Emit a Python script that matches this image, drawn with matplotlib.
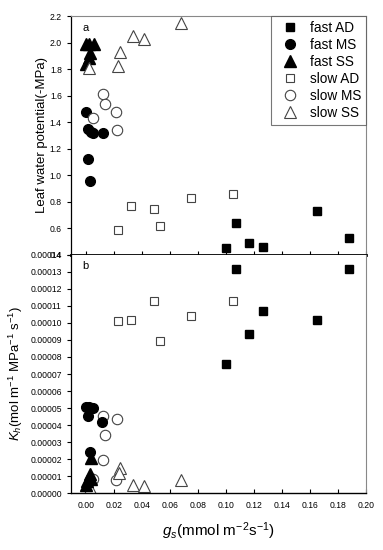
import matplotlib
matplotlib.use('Agg')
import matplotlib.pyplot as plt
from matplotlib.ticker import FormatStrFormatter, MultipleLocator

plt.rcParams['font.family'] = ['Liberation Sans', 'DejaVu Sans']
plt.rcParams['mathtext.fontset'] = 'custom'
plt.rcParams['mathtext.rm'] = 'Liberation Sans'
plt.rcParams['mathtext.it'] = 'Liberation Sans:italic'

# panel a: leaf water potential (-MPa) vs gs
fast_ad_gs_a = [0.0998, 0.107, 0.1167, 0.1267, 0.165, 0.188]
fast_ad_lwp = [0.45, 0.64, 0.49, 0.46, 0.73, 0.53]
fast_ms_gs_a = [0.0002, 0.0014, 0.0035, 0.005, 0.0119, 0.0012, 0.0031]
fast_ms_lwp = [1.48, 1.35, 1.33, 1.32, 1.32, 1.12, 0.96]
fast_ss_gs_a = [0.0, 0.0024, 0.0057, 0.0033, 0.0024, 0.0]
fast_ss_lwp = [1.99, 1.99, 1.99, 1.92, 1.88, 1.84]
slow_ad_gs_a = [0.0226, 0.0321, 0.0488, 0.0531, 0.0748, 0.1048]
slow_ad_lwp = [0.59, 0.77, 0.75, 0.62, 0.83, 0.86]
slow_ms_gs_a = [0.0119, 0.0136, 0.0052, 0.0212, 0.0219]
slow_ms_lwp = [1.61, 1.54, 1.43, 1.48, 1.34]
slow_ss_gs_a = [0.002, 0.0245, 0.023, 0.0336, 0.0412, 0.0679]
slow_ss_lwp = [1.81, 1.93, 1.82, 2.05, 2.03, 2.145]

# panel b: Kh vs gs
fast_ad_gs_b = [0.107, 0.188, 0.0998, 0.1167, 0.1267, 0.165]
fast_ad_kh = [0.000132, 0.000132, 0.000076, 0.0000937, 0.000107, 0.000102]
fast_ms_gs_b = [0.0, 0.0024, 0.0048, 0.0017, 0.0117, 0.0033]
fast_ms_kh = [0.0000508, 0.0000508, 0.0000500, 0.0000453, 0.0000420, 0.0000243]
fast_ss_gs_b = [0.0038, 0.0, 0.001, 0.002, 0.003, 0.004]
fast_ss_kh = [0.0000204, 0.000005, 0.000007, 0.000009, 0.000011, 0.000008]
slow_ad_gs_b = [0.0226, 0.0321, 0.0488, 0.0531, 0.0748, 0.1048]
slow_ad_kh = [0.000101, 0.000102, 0.000113, 0.0000892, 0.000104, 0.000113]
slow_ms_gs_b = [0.0124, 0.0138, 0.0219, 0.0119, 0.0212, 0.0052]
slow_ms_kh = [0.0000453, 0.0000341, 0.0000437, 0.0000196, 0.0000075, 0.000008]
slow_ss_gs_b = [0.003, 0.0243, 0.0236, 0.0333, 0.0414, 0.0679]
slow_ss_kh = [0.000003, 0.0000145, 0.0000115, 0.0000047, 0.0000041, 0.0000076]

edge = '#444444'
styles = {
    'fast AD': dict(marker='s', ms=5.5, mfc='black', mec='black'),
    'fast MS': dict(marker='o', ms=7, mfc='black', mec='black'),
    'fast SS': dict(marker='^', ms=8, mfc='black', mec='black'),
    'slow AD': dict(marker='s', ms=6, mfc='white', mec=edge, mew=0.8),
    'slow MS': dict(marker='o', ms=7.5, mfc='white', mec=edge, mew=0.8),
    'slow SS': dict(marker='^', ms=9, mfc='white', mec=edge, mew=0.8),
}

fig = plt.figure(figsize=(3.83, 5.5), dpi=100)
ax_a = fig.add_axes([0.185, 0.5364, 0.771, 0.4345])
ax_b = fig.add_axes([0.185, 0.1036, 0.771, 0.4328])

series_a = [
    ('fast AD', fast_ad_gs_a, fast_ad_lwp),
    ('fast MS', fast_ms_gs_a, fast_ms_lwp),
    ('fast SS', fast_ss_gs_a, fast_ss_lwp),
    ('slow AD', slow_ad_gs_a, slow_ad_lwp),
    ('slow MS', slow_ms_gs_a, slow_ms_lwp),
    ('slow SS', slow_ss_gs_a, slow_ss_lwp),
]
series_b = [
    ('slow AD', slow_ad_gs_b, slow_ad_kh),
    ('slow MS', slow_ms_gs_b, slow_ms_kh),
    ('slow SS', slow_ss_gs_b, slow_ss_kh),
    ('fast AD', fast_ad_gs_b, fast_ad_kh),
    ('fast MS', fast_ms_gs_b, fast_ms_kh),
    ('fast SS', fast_ss_gs_b, fast_ss_kh),
]

for name, x, y in series_a:
    ax_a.plot(x, y, linestyle='none', label=name, **styles[name])
for name, x, y in series_b:
    ax_b.plot(x, y, linestyle='none', **styles[name])

for ax in (ax_a, ax_b):
    ax.set_xlim(-0.0107, 0.2)
    ax.xaxis.set_major_locator(MultipleLocator(0.02))
    ax.tick_params(axis='x', direction='in', length=3, width=0.8, labelsize=6.2, pad=6)
    ax.tick_params(axis='y', direction='out', length=3, width=0.8, labelsize=6.2)
    ax.spines['top'].set_color('#888888')
    ax.spines['right'].set_color('#888888')
    ax.spines['top'].set_linewidth(0.8)
    ax.spines['right'].set_linewidth(0.8)
    ax.spines['left'].set_linewidth(0.9)

ax_a.set_ylim(0.4, 2.2)
ax_a.yaxis.set_major_locator(MultipleLocator(0.2))
ax_a.yaxis.set_major_formatter(FormatStrFormatter('%.1f'))
ax_a.tick_params(axis='x', labelbottom=False)
ax_a.spines['bottom'].set_linewidth(2)
ax_a.spines['bottom'].set_zorder(5)
ax_a.set_ylabel('Leaf water potential(-MPa)', fontsize=9.5, labelpad=1)
ax_a.text(0.04, 0.97, 'a', transform=ax_a.transAxes, fontsize=8, va='top')

ax_b.set_ylim(0, 0.00014)
ax_b.yaxis.set_major_locator(MultipleLocator(0.00001))
ax_b.yaxis.set_major_formatter(FormatStrFormatter('%.5f'))
ax_b.xaxis.set_major_formatter(FormatStrFormatter('%.2f'))
ax_b.spines['top'].set_visible(False)
ax_b.spines['bottom'].set_linewidth(1)
ax_b.set_ylabel(r'$K_h$(mol m$^{-1}$ MPa$^{-1}$ s$^{-1}$)', fontsize=9.5, labelpad=4)
ax_b.set_xlabel(r'$\mathbf{\mathit{g}}_s$(mmol m$^{-2}$s$^{-1}$)', fontsize=11, labelpad=7)
ax_b.text(0.04, 0.975, 'b', transform=ax_b.transAxes, fontsize=8, va='top')

leg = ax_a.legend(loc='upper right', borderaxespad=0, fontsize=9.8, frameon=True,
                  fancybox=False, handletextpad=0.5, labelspacing=0.22,
                  borderpad=0.35, handlelength=2.0)
leg.get_frame().set_edgecolor('#555555')
leg.get_frame().set_linewidth(0.8)

fig.savefig('out.png', dpi=100)
